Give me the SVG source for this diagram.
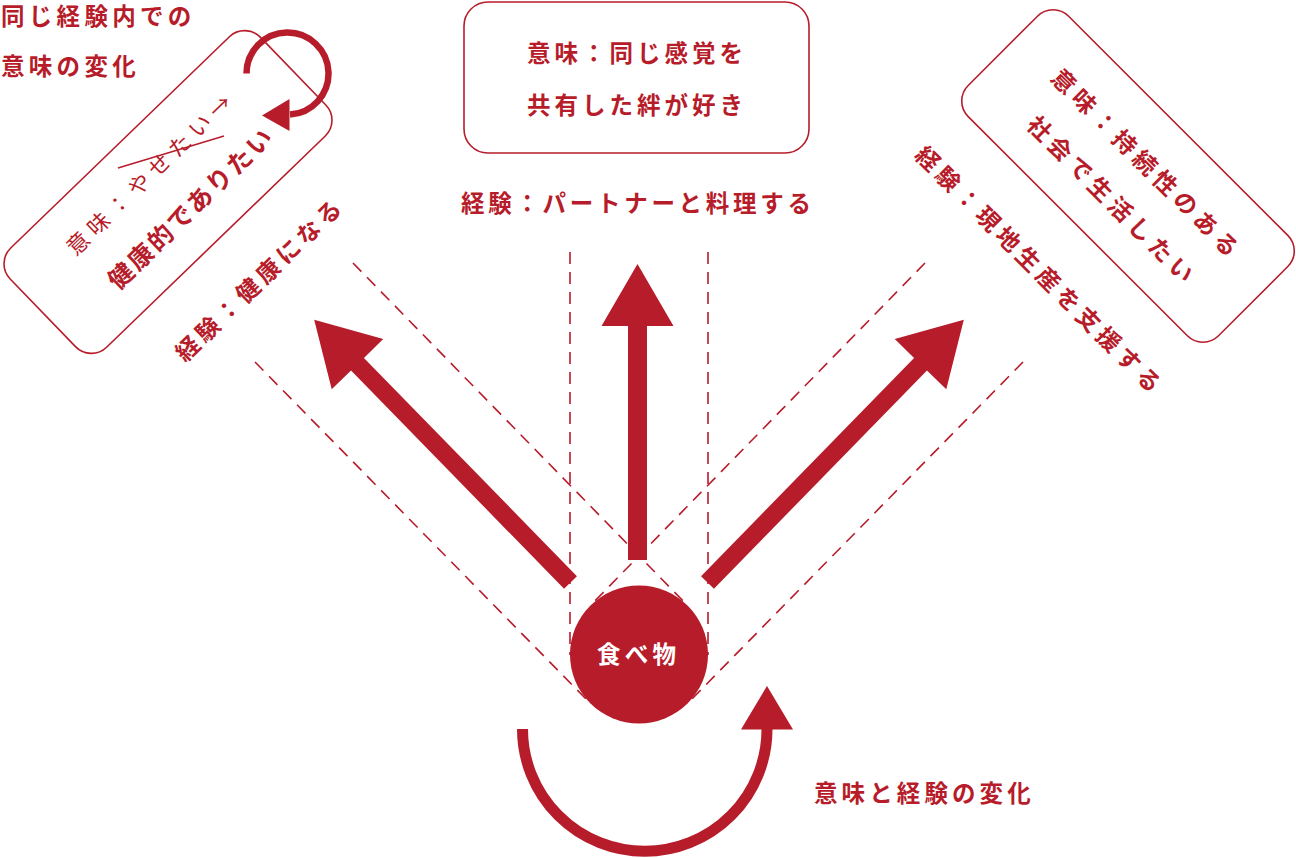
<svg xmlns="http://www.w3.org/2000/svg" width="1296" height="858" viewBox="0 0 1296 858">
<defs>
<style>
.t{font-family:"Noto Sans CJK JP","Noto Sans CJK SC",sans-serif;fill:#b71c2a;font-size:23.5px;font-weight:700;letter-spacing:4.5px}
.thin{font-weight:400}
.box{fill:none;stroke:#b71c2a;stroke-width:1.6}
.dash{fill:none;stroke:#b71c2a;stroke-width:1.6;stroke-dasharray:12 8}
.red{fill:#b71c2a}
.arc{fill:none;stroke:#b71c2a}
</style>
</defs>
<rect width="1296" height="858" fill="#fff"/>

<g id="connectors">
  <g id="dashed-guides">
    <line class="dash" x1="570" y1="252" x2="570" y2="655"/>
    <line class="dash" x1="708" y1="252" x2="708" y2="655"/>
    <line class="dash" x1="353" y1="263" x2="688" y2="606"/>
    <line class="dash" x1="255" y1="362" x2="590" y2="703"/>
    <line class="dash" x1="925" y1="263" x2="590" y2="606"/>
    <line class="dash" x1="1023" y1="362" x2="688" y2="703"/>
  </g>
  <path id="arrow-up" class="red" transform="translate(637.5,560)" d="M-9.5,0 L-9.5,-234 L-36,-234 L0,-296 L36,-234 L9.5,-234 L9.5,0 Z"/>
  <path id="arrow-left" class="red" transform="translate(570.5,582.5) rotate(-44.3)" d="M-9,0 L-9,-305 L-36,-305 L0,-367 L36,-305 L9,-305 L9,0 Z"/>
  <path id="arrow-right" class="red" transform="translate(707.5,582.5) rotate(44.3)" d="M-9,0 L-9,-305 L-36,-305 L0,-367 L36,-305 L9,-305 L9,0 Z"/>
  <g id="cycle-arrow">
    <path class="arc" stroke-width="11" d="M522.5,729 A122.25,122.25 0 0 0 767,729"/>
    <polygon class="red" points="741,729.5 767,686 793,729.5"/>
  </g>
  <g id="loop-arrow">
    <path class="arc" stroke-width="6.5" d="M246.5,73.5 A41,41 0 1 1 290,114.5"/>
    <polygon class="red" points="262,115.5 289.5,99 289.5,131"/>
  </g>
</g>

<g id="node-food">
  <circle cx="639" cy="654.5" r="69" class="red"/>
  <text class="t" x="597" y="662.5" style="fill:#fff;letter-spacing:4.2px">食べ物</text>
</g>

<g id="node-top">
  <rect class="box" x="464" y="2" width="345" height="151" rx="24"/>
  <text class="t" x="527" y="61.5" style="letter-spacing:4px">意味：同じ感覚を</text>
  <text class="t" x="527" y="113.5" style="letter-spacing:4px">共有した絆が好き</text>
</g>
<g id="label-top">
  <text class="t" x="461" y="211.5" style="letter-spacing:3.7px">経験：パートナーと料理する</text>
</g>

<g id="node-left" transform="translate(168,192) rotate(-44)">
  <rect class="box" x="-174" y="-69" width="348" height="138" rx="22"/>
  <text class="t thin" x="1.5" y="-17.4" text-anchor="middle" style="font-size:22px;letter-spacing:6.2px">意味：やせたい→</text>
  <text class="t" x="5.3" y="36.5" text-anchor="middle" style="font-size:25px;letter-spacing:2.5px">健康的でありたい</text>
</g>
<line id="strike" x1="118" y1="168" x2="224" y2="136" stroke="#b71c2a" stroke-width="1.6"/>
<g id="label-left" transform="translate(168,192) rotate(-44)">
  <text class="t" x="5.5" y="135" text-anchor="middle">経験：健康になる</text>
</g>

<g id="node-right" transform="translate(1128,176) rotate(45)">
  <rect class="box" x="-177" y="-71" width="354" height="142" rx="22"/>
  <text class="t" x="5.2" y="-12.8" text-anchor="middle" style="letter-spacing:5.2px">意味：持続性のある</text>
  <text class="t" x="6.5" y="37.5" text-anchor="middle" style="letter-spacing:5.1px">社会で生活したい</text>
</g>
<g id="label-right" transform="translate(1128,176) rotate(45)">
  <text class="t" x="5" y="138" text-anchor="middle" style="letter-spacing:4.9px">経験：現地生産を支援する</text>
</g>

<g id="title">
  <text class="t" x="1" y="24.5" style="letter-spacing:4.3px">同じ経験内での</text>
  <text class="t" x="1" y="74.5" style="letter-spacing:4.3px">意味の変化</text>
</g>
<g id="label-bottom">
  <text class="t" x="814" y="801.5" style="letter-spacing:4.1px">意味と経験の変化</text>
</g>
</svg>
